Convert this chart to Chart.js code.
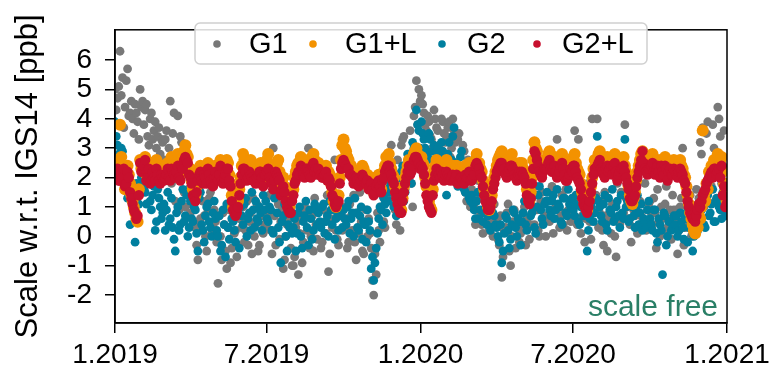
<!DOCTYPE html>
<html>
<head>
<meta charset="utf-8">
<script src="https://cdn.jsdelivr.net/npm/chart.js@4.4.1/dist/chart.umd.min.js"></script>
<style>
  html, body { margin: 0; padding: 0; background: #fff; }
  #wrap { width: 775px; height: 375px; }
</style>
</head>
<body>
<div id="wrap"><canvas id="scale-chart" width="775" height="375"></canvas></div>
<script>
// values read every 3 days from 1 Jan 2019 (rows = months);
// the *b arrays are the readings in between (offset by 1.5 days)
var STEP_DAYS = 3;

var g1 = [
  5.0, 4.7, 6.3, 5.4, 4.4, 5.7, 4.2, 4.0, 4.5, 3.9,
  5.0, 4.6, 4.3, 3.4, 4.0, 3.3, 3.9, 3.4, 2.8, 3.2,
  3.3, 2.4, 4.6, 3.5, 1.2, 4.1, 3.4, 2.9, 1.0, 1.6,
  0.8, 1.4, 0.3, -0.8, 0.6, 1.2, 0.0, 0.9, 1.5, 0.4,
  0.5, -1.6, 0.0, 0.8, -0.5, 0.3, -0.9, 1.1, 0.2, -0.3,
  0.6, 1.0, 0.2, -0.3, 0.8, 1.3, 0.4, -0.5, 0.9, 0.1,
  2.6, 0.8, 0.2, 3.0, -0.3, 1.1, 0.5, -1.1, 0.0, 0.6, -0.4,
  -1.0, 0.3, -1.3, 0.6, -0.2, 0.9, 3.0, 0.0, -0.5, 0.4,
  0.4, -0.4, 0.9, 0.1, -1.2, 0.6, 1.2, 0.2, -0.3, 0.8,
  1.0, 0.3, -0.2, 0.7, 1.4, -0.8, 0.1, 0.5, -0.6, 0.9,
  0.6, -0.4, -2.0, -1.3, 0.2, 1.0, 0.5, 1.3, 2.0, 3.1,
  1.3, 0.4, 0.8, 3.1, 3.4, 2.2, 2.8, 1.8, 4.1, 5.3, 5.0,
  4.8, 4.2, 3.6, 3.9, 3.3, 4.3, 3.7, 3.1, 4.0, 3.5,
  3.4, 3.9, 3.0, 3.6, 2.5, 3.5, 1.8, 2.9, 1.2, 2.2,
  1.6, 1.0, 0.6, 1.3, 0.4, 0.9, 1.8, 0.2, 0.7, 1.1,
  0.5, -0.3, -1.4, 0.2, 0.8, -0.5, 0.0, 0.9, 0.3, -0.2,
  0.2, 1.0, 0.6, -0.1, 1.3, 0.4, 0.9, 0.0, 1.5, 0.7,
  1.2, 0.5, 1.7, 0.9, 3.3, 0.3, 1.4, 0.8, 0.2, 1.1,
  1.0, 3.6, 0.4, 1.5, 0.7, -0.2, 1.2, 0.5, 4.0, 0.9,
  4.0, 0.8, 0.2, 1.5, -0.5, 0.6, 1.1, 0.0, 1.8, 0.4, 2.2,
  3.8, 1.0, 0.4, 1.5, 0.7, 0.1, 1.2, 0.5, 1.8, 0.9,
  1.2, 0.4, 0.8, 1.6, 0.0, 0.6, 1.1, 0.3, 0.9, 1.4,
  0.5, -0.6, 1.0, 3.0, 0.3, 0.8, 1.4, 0.1, 0.6, 1.1,
  3.2, 3.7, 1.5, 3.9, 2.0, 3.8, 1.2, 4.4, 3.4, 2.4, 1.0
];
var g1b = [
  4.3, 5.1, 4.8, 3.7, 5.3, 4.1, 4.6, 3.5, 4.2, 3.3,
  4.4, 3.8, 4.5, 3.1, 4.2, 3.6, 3.0, 3.7, 3.3, 2.6,
  3.6, 3.0, 1.8, 4.2, 2.7, 0.9, 3.2, 1.5, 2.5, 0.7,
  1.1, 0.5, -0.3, 1.6, 0.2, 0.7, -0.5, 1.3, 0.1, 0.9,
  -0.2, 0.7, -0.8, 0.4, -1.1, 0.9, -0.4, 0.1, -0.7, 0.6,
  0.3, -0.2, 1.2, 0.5, -0.6, 0.0, 1.1, -0.3, 0.7, 0.4,
  0.3, 1.4, -0.6, 0.7, 2.2, -0.1, 0.9, -0.8, 0.4, 1.2, -1.0,
  -0.7, 0.5, 0.1, -0.9, 1.0, 0.2, -0.4, 0.7, 1.3, -0.1,
  0.9, -0.2, 0.5, 1.4, -0.6, 0.3, 2.6, -0.1, 1.0, 0.2,
  0.6, -0.4, 1.1, 0.2, -0.2, 0.8, 1.5, -0.5, 0.4, 0.0,
  0.1, -1.5, -0.6, 0.8, -0.2, 1.4, 0.3, 1.8, 2.4, 1.6,
  0.9, 2.6, 0.2, 3.3, 1.6, 2.4, 3.6, 1.0, 4.4, 3.8, 4.6,
  4.5, 3.8, 4.1, 3.4, 3.0, 4.0, 3.6, 2.8, 3.9, 3.2,
  3.7, 2.7, 4.0, 3.2, 3.3, 2.0, 3.1, 1.5, 2.6, 1.0,
  1.2, 0.4, 1.9, 0.8, 0.1, 1.4, 0.5, 1.0, 0.0, 0.6,
  -0.1, 0.7, -0.7, 0.3, 1.1, -1.0, 0.5, -0.4, 0.6, 0.1,
  0.8, -0.3, 1.1, 0.4, 0.9, 1.7, 0.2, 1.2, 0.5, 0.0,
  0.6, 1.5, 0.1, 1.0, 2.0, 0.7, 0.4, 1.6, 0.9, 0.5,
  0.7, 1.3, 3.3, 0.1, 1.0, 0.6, 1.8, -0.1, 0.8, 1.4,
  0.3, 1.2, -0.3, 0.7, 2.5, 0.1, 1.0, -0.7, 0.5, 1.5, 0.8,
  1.3, 0.6, -0.2, 0.9, 1.6, 0.3, 0.7, 2.3, 0.2, 1.1,
  0.8, 1.3, -0.4, 0.5, 1.0, 0.2, 1.7, 0.6, -0.1, 0.9,
  0.9, 0.2, 1.3, -0.3, 0.5, 1.0, 0.0, 0.7, 1.6, 1.3,
  2.8, 1.0, 3.5, 2.2, 1.7, 3.0, 2.6, 4.0, 1.8, 3.6, 1.4
];

var g1L = [
  2.2, 2.5, 3.8, 2.0, 1.6, 2.4, 1.8, 1.2, 0.8, 0.5,
  2.6, 2.4, 2.7, 2.2, 1.9, 2.5, 2.1, 2.3, 1.9, 2.4,
  2.2, 2.5, 2.0, 2.6, 2.3, 2.8, 2.1, 2.4, 3.1, 2.7,
  2.3, 1.6, 1.4, 2.0, 2.4, 1.9, 2.2, 2.5, 2.1, 1.8,
  2.4, 2.1, 2.6, 1.9, 2.3, 2.5, 1.8, 1.0, 0.8, 1.2,
  2.0, 2.8, 2.4, 2.2, 2.6, 2.1, 1.9, 2.3, 2.5, 2.0,
  2.4, 2.8, 2.1, 1.8, 2.3, 2.6, 1.6, 2.0, 1.4, 1.1, 1.3,
  1.6, 2.2, 2.5, 2.7, 2.4, 2.2, 2.6, 2.3, 2.8, 2.5,
  2.5, 2.3, 2.1, 2.4, 2.2, 1.8, 1.2, 1.0, 1.4, 2.6,
  3.3, 2.9, 2.6, 2.4, 2.0, 2.2, 1.8, 2.1, 2.3, 1.9,
  1.7, 2.0, 1.5, 1.8, 2.1, 1.6, 2.2, 2.7, 2.8, 2.3,
  2.0, 1.5, 1.2, 0.9, 1.7, 2.2, 2.6, 2.4, 2.8, 3.0, 2.7,
  2.7, 2.4, 1.7, 1.2, 0.9, 2.2, 2.6, 2.3, 2.5, 2.1,
  2.6, 2.3, 2.2, 2.0, 2.4, 2.1, 2.3, 1.9, 2.2, 2.5,
  2.0, 2.3, 2.8, 2.5, 2.2, 1.6, 1.2, 0.9, 1.4, 2.0,
  2.4, 2.7, 2.9, 2.5, 2.2, 2.6, 2.8, 2.3, 2.1, 2.5,
  2.5, 2.2, 1.6, 1.2, 2.0, 3.2, 2.9, 2.4, 2.2, 2.6,
  2.6, 2.9, 2.4, 2.7, 2.2, 2.5, 2.8, 2.3, 2.0, 2.4,
  2.5, 2.8, 2.3, 2.1, 1.5, 1.1, 0.9, 1.4, 2.0, 2.6,
  2.6, 2.9, 2.4, 2.2, 2.7, 2.5, 2.3, 2.8, 2.1, 2.4, 2.6,
  2.4, 2.0, 1.4, 1.1, 1.5, 2.2, 2.6, 2.9, 2.5, 2.3,
  2.5, 2.8, 2.3, 2.6, 2.2, 2.4, 2.7, 2.1, 2.5, 2.3,
  2.5, 2.2, 2.6, 2.3, 2.0, 1.4, 0.8, 0.4, 0.1, 0.3,
  0.6, 3.6, 1.2, 1.6, 2.0, 2.3, 2.5, 2.8, 2.6, 2.2, 1.5
];
var g1Lb = [
  2.4, 2.0, 2.7, 2.2, 1.9, 2.1, 1.4, 1.0, 0.6, 1.6,
  2.3, 2.6, 2.1, 2.5, 2.0, 2.3, 2.6, 2.0, 2.2, 2.1,
  2.4, 2.1, 2.7, 2.3, 2.5, 2.2, 2.6, 2.9, 2.8, 2.3,
  1.9, 1.5, 1.7, 2.2, 2.0, 2.3, 2.0, 2.3, 1.9, 2.2,
  2.2, 2.4, 2.0, 2.2, 2.6, 2.1, 1.4, 0.9, 1.0, 1.6,
  2.4, 2.6, 2.0, 2.4, 2.3, 2.0, 2.2, 2.4, 2.2, 2.3,
  2.6, 2.2, 2.0, 2.1, 2.5, 2.2, 1.8, 1.7, 1.2, 1.0, 1.5,
  2.0, 2.4, 2.3, 2.6, 2.1, 2.5, 2.4, 2.7, 2.6, 2.3,
  2.4, 2.2, 2.3, 2.0, 2.1, 1.5, 1.1, 1.2, 2.0, 3.1,
  3.0, 2.7, 2.3, 2.2, 2.1, 2.0, 2.2, 2.4, 2.0, 2.1,
  1.9, 1.8, 1.7, 2.0, 1.9, 2.0, 2.4, 2.6, 2.5, 2.1,
  1.7, 1.3, 1.0, 1.3, 2.0, 2.4, 2.3, 2.6, 2.9, 2.8, 2.5,
  2.5, 2.0, 1.4, 1.0, 1.6, 2.4, 2.4, 2.2, 2.3, 2.4,
  2.4, 2.1, 2.4, 2.2, 2.0, 2.3, 2.1, 2.4, 2.3, 2.1,
  2.2, 2.6, 2.5, 2.3, 1.9, 1.4, 1.0, 1.1, 1.8, 2.2,
  2.6, 2.8, 2.4, 2.3, 2.4, 2.7, 2.5, 2.2, 2.4, 2.3,
  2.3, 2.0, 1.4, 1.5, 2.6, 3.0, 2.6, 2.3, 2.4, 2.5,
  2.8, 2.5, 2.6, 2.4, 2.3, 2.7, 2.5, 2.1, 2.2, 2.6,
  2.7, 2.5, 2.2, 1.8, 1.3, 1.0, 1.2, 1.7, 2.3, 2.4,
  2.8, 2.5, 2.3, 2.5, 2.4, 2.6, 2.7, 2.4, 2.3, 2.5, 2.7,
  2.2, 1.7, 1.2, 1.3, 1.9, 2.4, 2.8, 2.7, 2.4, 2.6,
  2.7, 2.4, 2.5, 2.4, 2.6, 2.3, 2.5, 2.4, 2.3, 2.6,
  2.3, 2.4, 2.4, 2.1, 1.7, 1.1, 0.6, 0.2, 0.5, 0.7,
  1.0, 1.4, 1.8, 2.2, 2.4, 2.6, 2.3, 2.5, 2.7, 1.8, 1.2
];

var g2 = [
  3.9, 3.1, 2.6, 2.9, 2.2, 1.3, 0.4, 1.6, -0.2, 1.5,
  2.4, 1.8, 1.5, 2.0, 1.2, 1.4, 0.2, 1.6, 1.0, 0.8,
  0.2, 1.5, 0.6, 0.3, -0.5, 1.0, 0.4, 1.6, 0.7, 0.0,
  1.2, 0.5, 0.9, -0.5, 1.5, 0.2, 0.7, 1.1, 0.3, 0.8,
  0.6, 0.0, -0.5, 0.9, -0.7, 0.3, 1.0, 0.5, -0.2, 0.8,
  1.0, 0.4, 1.3, 0.6, 0.2, 0.9, 1.2, 0.5, 0.8, 1.4,
  1.2, 0.5, 0.9, 0.1, 1.5, 0.3, -0.9, 0.7, 0.0, 0.4, 0.8,
  0.3, -0.5, 0.8, 0.0, 0.5, 1.2, -0.3, 0.6, 0.2, 0.9,
  0.8, 0.3, 1.1, 0.5, 0.0, 0.9, 1.3, 0.6, 0.2, 0.7,
  0.9, 0.4, 1.2, 0.6, 0.0, 0.8, 0.2, 1.0, 0.5, -0.2,
  0.5, -1.1, -1.5, -0.4, 0.6, 0.9, 1.3, 0.8, 1.5, 1.8,
  1.0, 0.7, 1.6, 2.2, 1.2, 2.0, 2.6, 1.8, 3.0, 4.3, 3.6,
  3.9, 3.3, 2.9, 3.5, 2.6, 3.1, 2.4, 2.8, 3.2, 2.7,
  1.4, 3.2, 2.6, 3.7, 2.2, 1.8, 2.9, 1.6, 2.4, 1.3,
  1.4, 0.9, 1.2, 0.6, 1.6, 0.8, 0.4, 1.0, 0.3, 0.7,
  0.3, -0.2, -0.9, 0.1, 0.6, -0.4, 0.4, 0.8, 0.0, 0.5,
  0.5, 1.2, 0.2, 1.5, 0.8, 0.3, 1.0, 1.7, 0.6, 1.1,
  1.5, 0.9, 1.2, 0.6, 1.6, 1.0, 0.4, 1.3, 0.7, 1.1,
  1.3, 0.7, 1.1, 0.4, 1.5, 0.9, -0.5, 0.6, 1.2, 0.8,
  3.4, 1.0, 0.5, 1.4, 0.2, 0.9, 1.6, 0.6, 1.2, 0.3, 0.8,
  3.3, 1.2, 0.6, 1.0, 0.3, 1.4, 0.8, 0.2, 0.5, 0.9,
  0.6, 0.2, 0.9, -0.2, 0.4, -1.3, 0.7, 0.0, 0.5, 0.3,
  0.4, 0.0, 0.8, 0.3, 0.6, -0.2, 0.9, -0.5, 0.5, 0.2,
  0.6, 1.0, 0.3, 1.4, 0.8, 1.6, 0.5, 1.2, 0.9, 1.5, 0.7
];
var g2b = [
  3.4, 2.8, 3.0, 2.4, 1.8, 1.5, 1.2, 0.9, 1.8, 1.1,
  2.0, 1.6, 1.1, 2.2, 0.9, 1.7, 0.5, 1.3, 0.6, 1.1,
  0.9, 0.4, 1.3, -0.1, 0.8, 0.2, 1.2, 0.5, 1.4, 0.3,
  0.6, 1.0, 0.1, 1.3, 0.4, -0.2, 1.0, 0.5, 0.0, 1.2,
  0.2, 0.7, -0.3, 0.4, 1.1, -0.1, 0.6, 0.2, 0.9, -0.4,
  0.7, 1.1, 0.0, 0.8, 1.5, 0.3, 0.6, 1.0, 0.2, 0.9,
  0.6, 1.0, 0.2, 1.3, 0.8, -0.2, 0.5, 1.1, -0.5, 0.3, 0.1,
  0.6, 0.1, 1.0, -0.4, 0.7, 0.3, 0.9, -0.1, 1.1, 0.4,
  0.5, 1.0, 0.1, 0.7, 1.2, 0.4, -0.1, 0.8, 1.0, 0.3,
  0.6, 1.0, 0.1, 0.8, 1.3, 0.3, 0.7, -0.1, 0.4, 0.9,
  0.2, -0.7, -0.9, 0.1, 1.0, 0.4, 1.1, 1.6, 1.2, 2.1,
  1.3, 1.9, 0.9, 2.4, 1.5, 2.8, 2.1, 3.2, 2.5, 3.8, 3.0,
  3.5, 3.0, 2.7, 3.3, 2.9, 2.5, 3.0, 2.6, 2.9, 2.4,
  2.8, 2.0, 3.4, 2.5, 1.7, 2.7, 2.1, 1.5, 1.9, 1.2,
  1.1, 0.6, 1.5, 0.9, 0.5, 1.3, 0.7, 0.2, 0.8, 0.4,
  0.0, 0.4, -0.5, 0.7, 0.2, -0.1, 0.9, 0.3, 0.6, -0.3,
  0.8, 0.4, 1.3, 0.7, 1.0, 0.1, 1.4, 0.9, 0.4, 1.2,
  1.2, 0.7, 1.4, 0.9, 1.1, 0.5, 1.3, 0.8, 1.6, 1.0,
  0.9, 1.4, 0.5, 1.0, 0.7, 1.2, 0.2, 1.0, 0.5, 1.3,
  1.2, 0.7, 1.1, 0.4, 1.3, 0.8, 0.5, 1.0, 0.7, 1.4, 0.6,
  1.0, 0.5, 1.3, 0.7, 0.9, 0.4, 1.1, 0.6, 0.3, 1.2,
  0.4, 0.9, 0.1, 0.6, 0.2, 0.8, -0.3, 0.5, 0.2, 0.7,
  0.7, 0.2, 0.5, -0.1, 0.8, 0.3, 0.6, 0.0, 0.4, 0.9,
  0.9, 0.4, 1.2, 0.7, 1.1, 0.5, 1.3, 1.0, 0.6, 1.2, 0.9
];

var g2L = [
  2.1, 2.3, 1.9, 2.0, 1.7, 2.2, 1.5, 1.1, 0.8, 0.7,
  2.5, 2.3, 2.6, 2.0, 1.8, 2.2, 1.9, 2.1, 1.8, 2.0,
  2.0, 2.3, 1.9, 2.2, 2.0, 2.4, 1.9, 2.3, 2.7, 2.5,
  2.0, 1.4, 1.2, 1.9, 2.2, 1.8, 2.0, 2.3, 1.9, 1.7,
  2.2, 1.9, 2.4, 1.8, 2.1, 2.3, 1.7, 0.9, 0.7, 1.0,
  1.8, 2.3, 2.2, 2.0, 2.1, 1.9, 1.8, 2.1, 2.2, 1.7,
  2.1, 2.3, 1.9, 1.6, 2.2, 2.0, 1.4, 1.7, 1.2, 0.9, 0.8,
  1.4, 1.9, 2.2, 2.4, 2.1, 2.3, 2.2, 2.0, 2.5, 2.3,
  2.3, 2.1, 2.0, 2.2, 2.0, 1.7, 1.3, 1.0, 1.2, 2.3,
  2.6, 2.4, 2.3, 2.1, 1.8, 2.0, 1.7, 1.9, 2.0, 1.8,
  1.6, 1.8, 1.4, 1.7, 1.9, 1.5, 2.0, 2.3, 2.4, 2.1,
  1.8, 1.3, 0.9, 0.8, 1.5, 2.0, 2.4, 2.2, 2.6, 2.7, 2.5,
  2.4, 2.1, 1.4, 1.0, 0.8, 1.9, 2.3, 2.1, 2.2, 1.9,
  2.2, 2.0, 2.0, 1.9, 2.1, 1.9, 2.0, 1.8, 2.0, 2.2,
  1.9, 2.1, 2.5, 2.3, 2.0, 1.4, 1.1, 0.9, 1.2, 1.8,
  2.2, 2.4, 2.5, 2.3, 2.0, 2.3, 2.4, 2.1, 1.9, 2.2,
  2.2, 2.0, 1.4, 1.1, 1.8, 2.9, 2.6, 2.2, 2.0, 2.3,
  2.3, 2.6, 2.2, 2.4, 2.0, 2.2, 2.5, 2.1, 1.9, 2.1,
  2.2, 2.4, 2.0, 1.8, 1.3, 1.0, 0.8, 1.2, 1.8, 2.3,
  2.4, 2.6, 2.2, 2.0, 2.4, 2.3, 2.1, 2.5, 1.9, 2.2, 2.3,
  2.2, 1.8, 1.3, 1.2, 1.4, 2.0, 2.4, 2.9, 2.3, 2.1,
  2.3, 2.5, 2.1, 2.4, 2.0, 2.2, 2.4, 1.9, 2.3, 2.1,
  2.2, 2.0, 2.3, 2.1, 1.8, 1.2, 0.8, 0.6, 0.5, 0.9,
  1.0, 1.4, 1.6, 1.9, 2.1, 2.0, 2.3, 2.2, 2.0, 1.4, 1.0
];
var g2Lb = [
  2.2, 1.9, 2.1, 2.3, 1.8, 2.0, 1.3, 0.9, 0.6, 1.4,
  2.2, 2.4, 1.9, 2.3, 1.9, 2.0, 2.3, 1.9, 2.1, 1.9,
  2.1, 2.0, 2.3, 2.1, 2.2, 2.0, 2.4, 2.6, 2.6, 2.1,
  1.8, 1.3, 1.5, 2.1, 1.9, 2.1, 1.8, 2.1, 1.8, 2.0,
  2.0, 2.1, 1.9, 2.0, 2.3, 1.9, 1.2, 0.8, 0.8, 1.4,
  2.1, 2.3, 1.9, 2.2, 2.0, 1.9, 2.0, 2.2, 2.0, 2.1,
  2.2, 2.0, 1.8, 1.9, 2.1, 1.9, 1.6, 1.5, 1.0, 0.8, 1.2,
  1.8, 2.1, 2.1, 2.3, 2.0, 2.3, 2.1, 2.4, 2.2, 2.1,
  2.1, 2.0, 2.1, 1.9, 1.9, 1.4, 1.1, 1.1, 1.8, 2.5,
  2.5, 2.3, 2.1, 2.0, 1.9, 1.9, 2.0, 2.1, 1.8, 1.9,
  1.7, 1.6, 1.5, 1.8, 1.7, 1.9, 2.2, 2.4, 2.2, 1.9,
  1.5, 1.1, 0.8, 1.2, 1.8, 2.2, 2.1, 2.4, 2.7, 2.6, 2.3,
  2.3, 1.8, 1.2, 0.9, 1.4, 2.1, 2.2, 2.0, 2.1, 2.1,
  2.1, 1.9, 2.1, 2.0, 1.8, 2.0, 1.9, 2.1, 2.0, 1.9,
  2.0, 2.4, 2.4, 2.1, 1.7, 1.2, 0.9, 1.0, 1.6, 2.0,
  2.3, 2.5, 2.2, 2.1, 2.2, 2.4, 2.3, 2.0, 2.1, 2.1,
  2.1, 1.8, 1.2, 1.3, 2.3, 2.8, 2.4, 2.1, 2.2, 2.3,
  2.5, 2.3, 2.3, 2.2, 2.1, 2.4, 2.3, 1.9, 2.0, 2.3,
  2.4, 2.2, 1.9, 1.6, 1.1, 0.9, 1.0, 1.5, 2.1, 2.2,
  2.5, 2.3, 2.1, 2.3, 2.2, 2.4, 2.4, 2.2, 2.1, 2.3, 2.4,
  2.0, 1.6, 1.2, 1.3, 1.7, 2.2, 2.6, 2.5, 2.2, 2.3,
  2.4, 2.2, 2.3, 2.2, 2.4, 2.1, 2.3, 2.2, 2.1, 2.3,
  2.1, 2.2, 2.2, 1.9, 1.5, 1.0, 0.7, 0.6, 0.7, 1.1,
  1.2, 1.5, 1.8, 2.0, 2.2, 2.3, 2.1, 2.3, 2.4, 1.7, 1.1
];

var seriesNames = ['G1', 'G1+L', 'G2', 'G2+L'];
var seriesColors = ['#787878', '#f39200', '#007f9f', '#c8102e'];

var xTickDays = [0, 181, 365, 547, 731];
var xTickLabels = ['1.2019', '7.2019', '1.2020', '7.2020', '1.2021'];
var yTicks = [-2, -1, 0, 1, 2, 3, 4, 5, 6];

var FONT = "'Liberation Sans', Arial, Helvetica, sans-serif";

function toPoints(vals, valsMid) {
  var pts = [];
  for (var i = 0; i < vals.length; i++) {
    pts.push({ x: i * STEP_DAYS, y: vals[i] });
    if (i < valsMid.length) {
      pts.push({ x: i * STEP_DAYS + STEP_DAYS / 2, y: valsMid[i] });
    }
  }
  return pts;
}

function makeSet(idx, vals, valsMid, radius, order) {
  return {
    label: seriesNames[idx],
    data: toPoints(vals, valsMid),
    backgroundColor: seriesColors[idx],
    borderWidth: 0,
    pointRadius: radius,
    pointHoverRadius: radius,
    order: order,
    clip: 0
  };
}

// boxed legend inside the plot, the corner note and the frame
var extras = {
  id: 'extras',
  afterDraw: function (chart) {
    var ctx = chart.ctx;
    var a = chart.chartArea;
    ctx.save();

    ctx.strokeStyle = '#000';
    ctx.lineWidth = 1.5;
    ctx.strokeRect(a.left, a.top, a.right - a.left, a.bottom - a.top);

    var bx = 195, by = 23, bw = 452, bh = 41, r = 5;
    ctx.beginPath();
    ctx.moveTo(bx + r, by);
    ctx.arcTo(bx + bw, by, bx + bw, by + bh, r);
    ctx.arcTo(bx + bw, by + bh, bx, by + bh, r);
    ctx.arcTo(bx, by + bh, bx, by, r);
    ctx.arcTo(bx, by, bx + bw, by, r);
    ctx.closePath();
    ctx.fillStyle = 'rgba(255,255,255,0.85)';
    ctx.fill();
    ctx.strokeStyle = '#d0d0d0';
    ctx.lineWidth = 1.5;
    ctx.stroke();

    var dotX = [217, 313, 442, 537];
    var textX = [249, 345, 467, 562];
    var ly = 44;
    ctx.font = '29px ' + FONT;
    ctx.textBaseline = 'middle';
    ctx.textAlign = 'left';
    for (var i = 0; i < seriesNames.length; i++) {
      ctx.beginPath();
      ctx.arc(dotX[i], ly, 3.8, 0, Math.PI * 2);
      ctx.fillStyle = seriesColors[i];
      ctx.fill();
      ctx.fillStyle = '#000';
      ctx.fillText(seriesNames[i], textX[i], ly + 1);
    }

    ctx.font = '30px ' + FONT;
    ctx.fillStyle = '#2a7f66';
    ctx.textAlign = 'right';
    ctx.textBaseline = 'alphabetic';
    ctx.fillText('scale free', a.right - 9, a.bottom - 7);
    ctx.restore();
  }
};

new Chart(document.getElementById('scale-chart'), {
  type: 'scatter',
  data: {
    datasets: [
      makeSet(0, g1, g1b, 4.4, 4),
      makeSet(1, g1L, g1Lb, 6, 2),
      makeSet(2, g2, g2b, 4.4, 3),
      makeSet(3, g2L, g2Lb, 5.2, 1)
    ]
  },
  options: {
    responsive: false,
    animation: false,
    events: [],
    layout: { padding: { top: 19, right: 48, left: 0, bottom: 0 } },
    plugins: {
      legend: { display: false },
      tooltip: { enabled: false }
    },
    scales: {
      x: {
        type: 'linear',
        min: 0,
        max: 731,
        afterBuildTicks: function (scale) {
          scale.ticks = xTickDays.map(function (v) { return { value: v }; });
        },
        afterFit: function (scale) { scale.height = 52; },
        ticks: {
          autoSkip: false,
          maxRotation: 0,
          padding: 5,
          color: '#000',
          font: { family: FONT, size: 28 },
          callback: function (v) { return xTickLabels[xTickDays.indexOf(v)]; }
        },
        grid: { drawOnChartArea: false, drawTicks: true, tickLength: 10, color: '#000', lineWidth: 1.5 },
        border: { display: true, color: '#000', width: 1.5 }
      },
      y: {
        min: -2.95,
        max: 7.03,
        afterBuildTicks: function (scale) {
          scale.ticks = yTicks.map(function (v) { return { value: v }; });
        },
        afterFit: function (scale) { scale.width = 115; },
        ticks: {
          padding: 13,
          color: '#000',
          font: { family: FONT, size: 28 }
        },
        grid: { drawOnChartArea: false, drawTicks: true, tickLength: 10, color: '#000', lineWidth: 1.5 },
        border: { display: true, color: '#000', width: 1.5 },
        title: {
          display: true,
          text: 'Scale w.r.t. IGS14 [ppb]',
          color: '#000',
          font: { family: FONT, size: 31 },
          padding: { top: 10, bottom: 0 }
        }
      }
    }
  },
  plugins: [extras]
});
</script>
</body>
</html>
